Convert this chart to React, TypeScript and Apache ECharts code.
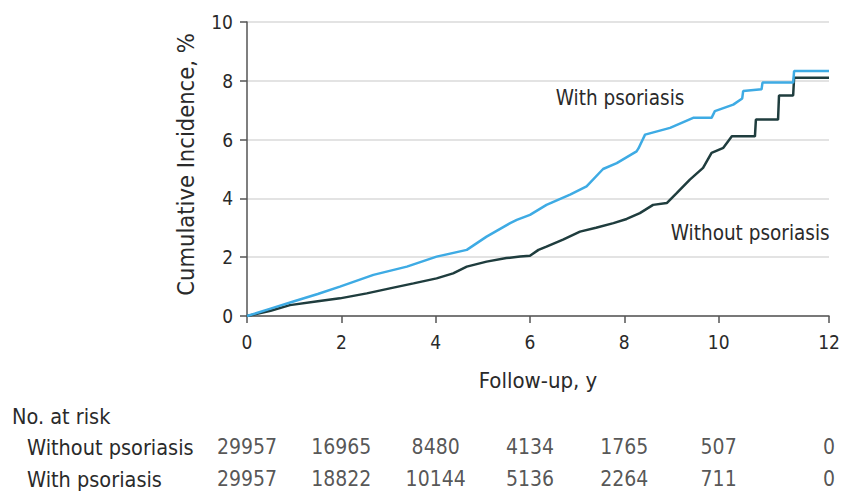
import React, { useEffect, useRef } from "react";
import * as echarts from "echarts";

const X_END = 12.34;
const xTickValues = [0, 2, 4, 6, 8, 10, X_END];

const withPsoriasis: number[][] = [
  [0, 0], [0.5, 0.25], [1, 0.5], [1.5, 0.75], [1.97, 1.0], [2.68, 1.4], [3.39, 1.68],
  [4.02, 2.02], [4.66, 2.25], [5.08, 2.7], [5.58, 3.16], [5.72, 3.27], [6.0, 3.44],
  [6.35, 3.78], [6.85, 4.13], [7.2, 4.41], [7.55, 5.0], [7.84, 5.2], [8.26, 5.6],
  [8.3, 5.7], [8.44, 6.17], [8.97, 6.4], [9.46, 6.74], [9.85, 6.74], [9.92, 6.97],
  [10.31, 7.19], [10.5, 7.4], [10.52, 7.65], [10.91, 7.71], [10.93, 7.94],
  [11.58, 7.94], [11.6, 8.33], [12.34, 8.33],
];

const withoutPsoriasis: number[][] = [
  [0, 0], [0.5, 0.18], [0.91, 0.37], [1.5, 0.5], [1.97, 0.6], [2.54, 0.77], [3.03, 0.94],
  [3.53, 1.11], [4.02, 1.28], [4.37, 1.45], [4.66, 1.68], [5.08, 1.85], [5.5, 1.97],
  [5.79, 2.02], [6.0, 2.05], [6.18, 2.25], [6.35, 2.36], [6.7, 2.6], [7.06, 2.87],
  [7.4, 3.0], [7.77, 3.16], [8.05, 3.3], [8.33, 3.5], [8.61, 3.78], [8.9, 3.84],
  [9.11, 4.18], [9.39, 4.64], [9.67, 5.04], [9.85, 5.55], [10.1, 5.72], [10.28, 6.11],
  [10.77, 6.11], [10.79, 6.68], [11.26, 6.68], [11.28, 7.5], [11.58, 7.5], [11.6, 8.1],
  [12.34, 8.1],
];

const riskGroups = ["Without psoriasis", "With psoriasis"];
const riskTimes = [0, 2, 4, 6, 8, 10, 12];
const riskWithout = [29957, 16965, 8480, 4134, 1765, 507, 0];
const riskWith = [29957, 18822, 10144, 5136, 2264, 711, 0];

const FONT = "'Liberation Sans Narrow', 'DejaVu Sans Condensed', 'Roboto', sans-serif";
const TEXT = "#2a2a2a";
const BLUE = "#3eabe4";
const DARK = "#1f3d3e";
const AXIS = "#555";

export default function App() {
  const ref = useRef<HTMLDivElement>(null);
  useEffect(() => {
    if (!ref.current) return;
    const chart = echarts.init(ref.current, undefined, { renderer: "svg" });
    const riskPos = (t: number) => (t === 12 ? X_END : t);
    const riskData: any[] = [];
    riskTimes.forEach((t, i) => {
      riskData.push([riskPos(t), riskGroups[0], riskWithout[i]]);
      riskData.push([riskPos(t), riskGroups[1], riskWith[i]]);
    });
    chart.setOption({
      animation: false,
      textStyle: { fontFamily: FONT },
      grid: [
        { left: 247, right: 14, top: 22, height: 294 },
        { left: 247, right: 14, top: 431, height: 66 },
      ],
      xAxis: [
        {
          type: "value",
          gridIndex: 0,
          min: 0,
          max: X_END,
          name: "Follow-up, y",
          nameLocation: "middle",
          nameGap: 53,
          nameTextStyle: { fontSize: 22, color: TEXT, fontFamily: FONT },
          axisLine: { lineStyle: { color: AXIS, width: 1.5 } },
          axisTick: { show: true, length: 7, customValues: xTickValues, lineStyle: { color: AXIS, width: 1.5 } },
          axisLabel: {
            customValues: xTickValues,
            formatter: (v: number) => String(Math.round(v)),
            fontSize: 19,
            color: TEXT,
            margin: 16,
            fontFamily: FONT,
          },
          splitLine: { show: false },
        },
        { type: "value", gridIndex: 1, min: 0, max: X_END, show: false },
      ],
      yAxis: [
        {
          type: "value",
          gridIndex: 0,
          min: 0,
          max: 10,
          interval: 2,
          name: "Cumulative Incidence, %",
          nameLocation: "middle",
          nameGap: 49,
          nameTextStyle: { fontSize: 23.5, color: TEXT, fontFamily: FONT, padding: [0, 0, 0, 9] },
          axisLine: { show: true, lineStyle: { color: AXIS, width: 1.5 } },
          axisTick: { show: true, length: 7, lineStyle: { color: AXIS, width: 1.5 } },
          axisLabel: { fontSize: 19, color: TEXT, margin: 14, fontFamily: FONT },
          splitLine: { show: true, lineStyle: { color: "#e3e3e3", width: 2 } },
        },
        {
          type: "category",
          gridIndex: 1,
          data: riskGroups,
          inverse: true,
          axisLine: { show: false },
          axisTick: { show: false },
          splitLine: { show: false },
          axisLabel: { align: "left", margin: 220, fontSize: 21.5, color: TEXT, fontFamily: FONT },
        },
      ],
      graphic: [
        {
          type: "text",
          left: 12,
          top: 405,
          style: { text: "No. at risk", fontSize: 21.5, fill: TEXT, fontFamily: FONT },
        },
      ],
      series: [
        {
          type: "line",
          name: "Without psoriasis",
          xAxisIndex: 0,
          yAxisIndex: 0,
          data: withoutPsoriasis,
          showSymbol: false,
          symbol: "none",
          lineStyle: { color: DARK, width: 2.5 },
          z: 3,
          markPoint: {
            symbol: "circle",
            symbolSize: 0,
            data: [{ coord: [10.67, 2.83], value: "Without psoriasis" }],
            label: { show: true, position: "inside", formatter: "Without psoriasis", fontSize: 20.5, color: TEXT, fontFamily: FONT },
          },
        },
        {
          type: "line",
          name: "With psoriasis",
          xAxisIndex: 0,
          yAxisIndex: 0,
          data: withPsoriasis,
          showSymbol: false,
          symbol: "none",
          lineStyle: { color: BLUE, width: 2.5 },
          z: 4,
          markPoint: {
            symbol: "circle",
            symbolSize: 0,
            data: [{ coord: [7.91, 7.43], value: "With psoriasis" }],
            label: { show: true, position: "inside", formatter: "With psoriasis", fontSize: 20.5, color: TEXT, fontFamily: FONT },
          },
        },
        {
          type: "scatter",
          xAxisIndex: 1,
          yAxisIndex: 1,
          data: riskData,
          symbolSize: 1,
          itemStyle: { color: "rgba(0,0,0,0)" },
          label: {
            show: true,
            position: "inside",
            formatter: (p: any) => String(p.value[2]),
            fontSize: 21,
            color: TEXT,
            fontFamily: FONT,
          },
        },
      ],
    });
    return () => chart.dispose();
  }, []);
  return (
    <div
      ref={ref}
      style={{ position: "fixed", left: 0, top: 0, width: 843, height: 495, background: "#fff" }}
    />
  );
}
